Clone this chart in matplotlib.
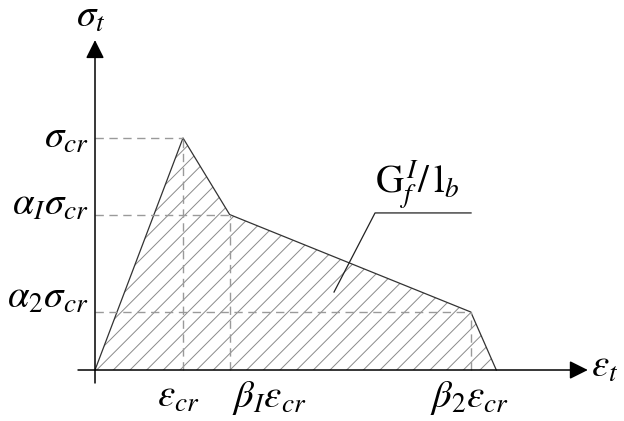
import numpy as np
import matplotlib
matplotlib.use('Agg')
import matplotlib.pyplot as plt

plt.rcParams['mathtext.fontset'] = 'stix'
plt.rcParams['font.family'] = 'STIXGeneral'
plt.rcParams['hatch.linewidth'] = 0.7

# softening curve, strain in units of eps_cr, stress in units of sigma_cr
eps = [0.0, 1.0, 1.53, 4.27, 4.56]
sig = [0.0, 1.0, 0.67, 0.25, 0.0]

y_labels = [r'$\sigma_{cr}$', r'$\alpha_{\mathit{I}}\sigma_{cr}$', r'$\alpha_2\sigma_{cr}$']
x_labels = [r'$\varepsilon_{cr}$', r'$\beta_{\mathit{I}}\varepsilon_{cr}$', r'$\beta_2\varepsilon_{cr}$']

# label placement tweaks (data units)
y_lab_base = [0.957, 0.668, 0.267]
x_lab_shift = [-0.05, 0.45, -0.01]

fig = plt.figure(figsize=(6.24, 4.21), dpi=100)
ax = fig.add_axes([0, 0, 1, 1])
ax.set_xlim(-1.0795, 6.011)
ax.set_ylim(-0.2198, 1.5948)
ax.axis('off')

# hatched area under the curve
ax.fill(eps, sig, facecolor='none', edgecolor='#8a8a8a', linewidth=0, hatch='//')
ax.plot(eps, sig, color='#333333', lw=0.9)

# dashed guides to the axes
for e, s in zip(eps[1:4], sig[1:4]):
    ax.plot([0, e], [s, s], color='#9a9a9a', lw=1.0, ls=(0, (6, 4)))
    ax.plot([e, e], [0, s], color='#9a9a9a', lw=1.0, ls=(0, (6, 4)))

# axes with arrow heads
ax.annotate('', xy=(5.6, 0), xytext=(-0.193, 0),
            arrowprops=dict(arrowstyle='-|>', mutation_scale=28, color='k', lw=1.1,
                            shrinkA=0, shrinkB=0))
ax.annotate('', xy=(0, 1.422), xytext=(0, -0.056),
            arrowprops=dict(arrowstyle='-|>', mutation_scale=28, color='k', lw=1.1,
                            shrinkA=0, shrinkB=0))

fs = 28
ax.text(-0.216, 1.478, r'$\sigma_t$', fontsize=fs, ha='left', va='baseline')
ax.text(5.636, -0.03, r'$\varepsilon_t$', fontsize=fs, ha='left', va='baseline')

for yb, lab in zip(y_lab_base, y_labels):
    ax.text(-0.07, yb, lab, fontsize=fs, ha='right', va='baseline')
for e, dx, lab in zip(eps[1:4], x_lab_shift, x_labels):
    ax.text(e + dx, -0.16, lab, fontsize=fs, ha='center', va='baseline')

# leader to the fracture energy label
ax.plot([2.716, 3.182, 4.273], [0.336, 0.677, 0.677], color='#222222', lw=0.9)
ax.text(3.18, 0.763, r'$\mathrm{G}_f^{\,\mathit{I}}/\,\mathrm{l}_b$', fontsize=fs,
        ha='left', va='baseline')

fig.savefig('out.png', dpi=100)
